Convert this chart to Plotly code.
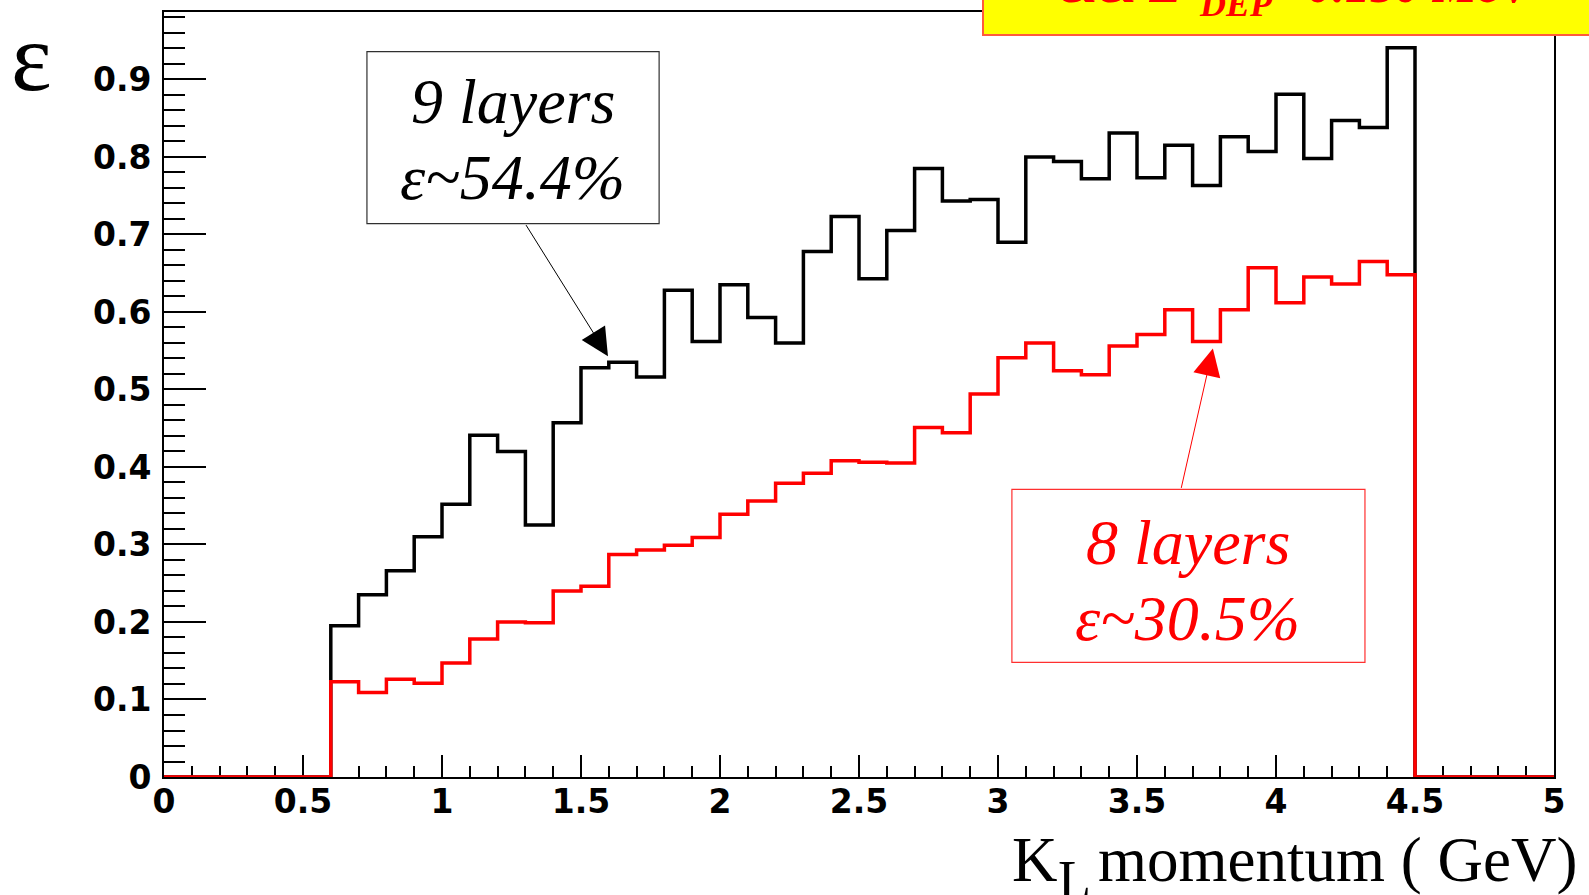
import plotly.graph_objects as go

# K_L momentum bins: 50 bins of 0.1 GeV from 0 to 5 GeV
bin_edges = [round(0.1 * i, 1) for i in range(51)]

# Detection efficiency per bin, 9 layers
eff_9_layers = [
    0, 0, 0, 0, 0, 0,
    0.195, 0.235, 0.266, 0.310, 0.352, 0.441, 0.420, 0.325, 0.457,
    0.528, 0.535, 0.516, 0.628, 0.562, 0.635, 0.593, 0.560, 0.678, 0.723,
    0.643, 0.705, 0.785, 0.743, 0.745, 0.690, 0.800, 0.794, 0.772, 0.831,
    0.773, 0.815, 0.763, 0.826, 0.807, 0.881, 0.798, 0.847, 0.838, 0.941,
    0, 0, 0, 0, 0,
]

# Detection efficiency per bin, 8 layers
eff_8_layers = [
    0, 0, 0, 0, 0, 0,
    0.123, 0.109, 0.126, 0.121, 0.147, 0.178, 0.200, 0.199, 0.240,
    0.246, 0.287, 0.293, 0.299, 0.309, 0.339, 0.356, 0.379, 0.392, 0.408,
    0.406, 0.405, 0.451, 0.444, 0.494, 0.541, 0.560, 0.524, 0.519, 0.556,
    0.571, 0.603, 0.562, 0.603, 0.657, 0.612, 0.645, 0.636, 0.665, 0.648,
    0, 0, 0, 0, 0,
]

x_ticks = [0, 0.5, 1, 1.5, 2, 2.5, 3, 3.5, 4, 4.5, 5]
x_tick_text = ["0", "0.5", "1", "1.5", "2", "2.5", "3", "3.5", "4", "4.5", "5"]
y_ticks = [0, 0.1, 0.2, 0.3, 0.4, 0.5, 0.6, 0.7, 0.8, 0.9]
y_tick_text = ["0", "0.1", "0.2", "0.3", "0.4", "0.5", "0.6", "0.7", "0.8", "0.9"]

label_9 = ["9 layers", "ε~54.4%"]
label_8 = ["8 layers", "ε~30.5%"]
cut_parts = ["&& E", "DEP", "<0.150 MeV"]
x_title_parts = ["K", "L", "momentum ( GeV)"]

# page geometry of the plotting frame (pixels)
L_PX, R_PX, T_PX, B_PX = 164, 1554, 10, 777


def px_x(px):
    return (px - L_PX) / (R_PX - L_PX)


def px_y(py):
    return (B_PX - py) / (B_PX - T_PX)


def step_xy(values):
    """Histogram outline: one point per lower bin edge plus the last edge."""
    xs = list(bin_edges)
    ys = list(values) + [values[-1]]
    return xs, ys


fig = go.Figure()

xs9, ys9 = step_xy(eff_9_layers)
fig.add_trace(go.Scatter(
    x=xs9, y=ys9, mode="lines", line_shape="hv",
    line=dict(color="black", width=3.5), cliponaxis=False,
    hoverinfo="skip", showlegend=False,
))

xs8, ys8 = step_xy(eff_8_layers)
fig.add_trace(go.Scatter(
    x=xs8, y=ys8, mode="lines", line_shape="hv",
    line=dict(color="#ff0000", width=3.5), cliponaxis=False,
    hoverinfo="skip", showlegend=False,
))

tick_font = dict(family="DejaVu Sans", size=33, color="black", weight="bold")
serif = "Liberation Serif"

fig.update_xaxes(
    range=[0, 5], tickvals=x_ticks, ticktext=x_tick_text,
    ticks="inside", ticklen=22, tickwidth=2, tickcolor="black",
    minor=dict(ticks="inside", ticklen=11, tickwidth=2, tickcolor="black", dtick=0.1, tick0=0),
    showline=True, linewidth=2, linecolor="black", mirror=True,
    showgrid=False, zeroline=False, tickfont=tick_font,
    ticklabelstandoff=-6, layer="below traces",
)
fig.update_yaxes(
    range=[0, 0.987], tickvals=y_ticks, ticktext=y_tick_text,
    ticks="inside", ticklen=42, tickwidth=2, tickcolor="black",
    minor=dict(ticks="inside", ticklen=21, tickwidth=2, tickcolor="black", dtick=0.02, tick0=0),
    showline=True, linewidth=2, linecolor="black", mirror=True,
    showgrid=False, zeroline=False, tickfont=tick_font,
    ticklabelstandoff=4, layer="below traces",
)

shapes = [
    # label boxes
    dict(type="rect", xref="x", yref="y", x0=0.730, x1=1.781, y0=0.714, y1=0.936,
         line=dict(color="#303030", width=1.2), fillcolor="white", layer="below"),
    dict(type="rect", xref="x", yref="y", x0=3.050, x1=4.320, y0=0.148, y1=0.371,
         line=dict(color="#ff3030", width=1.2), fillcolor="white", layer="below"),
    # selection banner at the top
    dict(type="rect", xref="paper", yref="paper", x0=px_x(983), x1=1.2, y0=px_y(33), y1=1.2,
         line=dict(color="#ff5a3c", width=2), fillcolor="#ffff00", layer="above"),
]

label_font_black = dict(family=serif, size=64, color="black")
label_font_red = dict(family=serif, size=64, color="#ff0000")
banner_font = dict(family=serif, size=50, color="#ff0000")
banner_sub_font = dict(family=serif, size=36, color="#ff0000")

annotations = [
    # 9 layers label
    dict(x=1.255, y=px_y(100), xref="x", yref="paper", text="<i>%s</i>" % label_9[0],
         showarrow=False, font=label_font_black, xanchor="center", yanchor="middle"),
    dict(x=1.255, y=px_y(176), xref="x", yref="paper", text="<i>%s</i>" % label_9[1],
         showarrow=False, font=label_font_black, xanchor="center", yanchor="middle"),
    # 8 layers label
    dict(x=3.683, y=0.302, xref="x", yref="y", text="<i>%s</i>" % label_8[0],
         showarrow=False, font=label_font_red, xanchor="center", yanchor="middle"),
    dict(x=3.683, y=0.205, xref="x", yref="y", text="<i>%s</i>" % label_8[1],
         showarrow=False, font=label_font_red, xanchor="center", yanchor="middle"),
    # arrows from the label boxes to the curves
    dict(x=1.597, y=0.543, ax=1.299, ay=0.714, xref="x", yref="y", axref="x", ayref="y",
         text="", showarrow=True, arrowhead=2, arrowsize=5.5, arrowwidth=1,
         arrowcolor="black", standoff=0),
    dict(x=3.773, y=0.553, ax=3.658, ay=0.371, xref="x", yref="y", axref="x", ayref="y",
         text="", showarrow=True, arrowhead=2, arrowsize=5.5, arrowwidth=1,
         arrowcolor="#ff0000", standoff=0),
    # x-axis title, K with subscript L
    dict(x=px_x(1010), y=px_y(860), xref="paper", yref="paper", text=x_title_parts[0],
         showarrow=False, font=dict(family=serif, size=63, color="black"),
         xanchor="left", yanchor="middle"),
    dict(x=px_x(1056), y=px_y(880), xref="paper", yref="paper", text=x_title_parts[1],
         showarrow=False, font=dict(family=serif, size=54, color="black"),
         xanchor="left", yanchor="middle"),
    dict(x=px_x(1579), y=px_y(860), xref="paper", yref="paper", text=x_title_parts[2],
         showarrow=False, font=dict(family=serif, size=63, color="black"),
         xanchor="right", yanchor="middle"),
    # y-axis title
    dict(x=px_x(31), y=px_y(56), xref="paper", yref="paper", text="ε", showarrow=False,
         font=dict(family=serif, size=97, color="black"),
         xanchor="center", yanchor="middle"),
    # selection banner text
    dict(x=px_x(1185), y=px_y(-17), xref="paper", yref="paper",
         text="<b><i>%s</i></b>" % cut_parts[0], showarrow=False, font=banner_font,
         xanchor="right", yanchor="middle"),
    dict(x=px_x(1197), y=px_y(2), xref="paper", yref="paper",
         text="<b><i>%s</i></b>" % cut_parts[1], showarrow=False, font=banner_sub_font,
         xanchor="left", yanchor="middle"),
    dict(x=px_x(1277), y=px_y(-17), xref="paper", yref="paper",
         text="<b><i>%s</i></b>" % cut_parts[2], showarrow=False, font=banner_font,
         xanchor="left", yanchor="middle"),
]

fig.update_layout(
    width=1589, height=895,
    margin=dict(l=L_PX, r=1589 - R_PX, t=T_PX, b=895 - B_PX),
    paper_bgcolor="white", plot_bgcolor="white",
    shapes=shapes, annotations=annotations,
    showlegend=False,
)

fig.write_html("out.html")
